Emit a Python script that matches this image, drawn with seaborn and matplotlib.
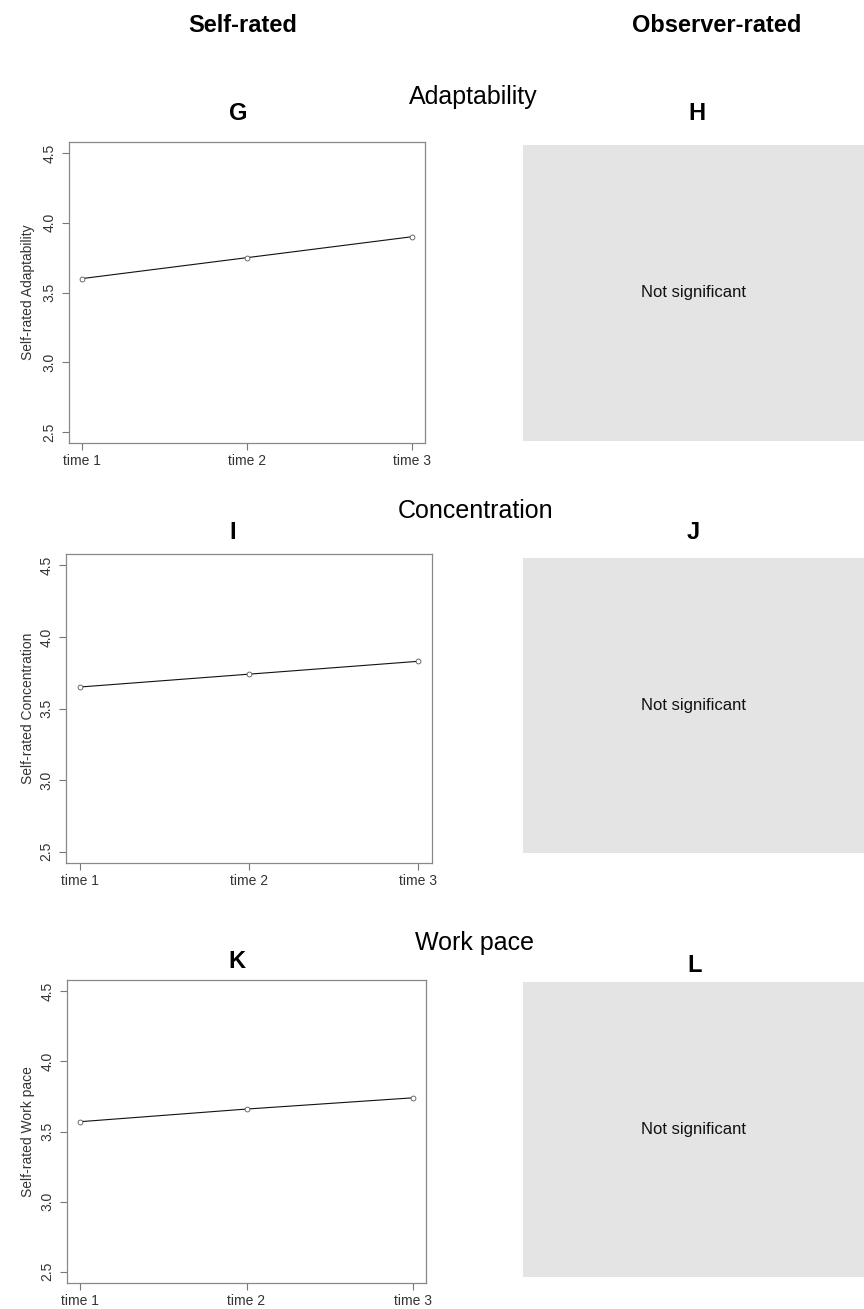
import matplotlib
matplotlib.use("Agg")
import matplotlib.pyplot as plt
import seaborn as sns
import pandas as pd

# values
times = ["time 1", "time 2", "time 3"]
adaptability = [3.60, 3.75, 3.90]
concentration = [3.65, 3.74, 3.83]
work_pace = [3.57, 3.66, 3.74]
y_ticks = [2.5, 3.0, 3.5, 4.0, 4.5]

sns.set_style("white")
plt.rcParams["font.family"] = ["Liberation Sans", "DejaVu Sans"]
plt.rcParams["text.color"] = "black"

W, H = 864, 1309
fig = plt.figure(figsize=(W / 100, H / 100), dpi=100)


def rect(left, top, right, bottom):
    # pixel box -> figure fraction rect
    return [left / W, 1 - bottom / H, (right - left) / W, (bottom - top) / H]


def self_panel(box, values, ylabel):
    ax = fig.add_axes(rect(*box))
    df = pd.DataFrame({"x": range(len(times)), "y": values})
    sns.lineplot(data=df, x="x", y="y", ax=ax, color="#111111", linewidth=0.8,
                 marker="o", markersize=3.5, markerfacecolor="white",
                 markeredgecolor="#555555", markeredgewidth=0.6)
    ax.set_xlim(-0.08, 2.08)
    ax.set_ylim(2.42, 4.58)
    ax.set_xticks(range(len(times)))
    ax.set_xticklabels(times)
    ax.set_yticks(y_ticks)
    ax.set_yticklabels([f"{v:.1f}" for v in y_ticks], rotation=90, va="center")
    ax.tick_params(axis="both", length=5, width=0.8, color="#777777",
                   labelsize=10, labelcolor="#333333", pad=3, direction="out",
                   bottom=True, left=True)
    ax.tick_params(axis="y", pad=4)
    for s in ax.spines.values():
        s.set_visible(True)
        s.set_color("#888888")
        s.set_linewidth(0.9)
    ax.set_xlabel("")
    ax.set_ylabel(ylabel, fontsize=10, color="#333333", va="center")
    wpx = box[2] - box[0]
    ax.yaxis.set_label_coords(-(box[0] - 28) / wpx, 0.5)
    return ax


def grey_panel(box):
    ax = fig.add_axes(rect(*box))
    ax.set_facecolor("#e4e4e4")
    for s in ax.spines.values():
        s.set_visible(False)
    ax.set_xticks([])
    ax.set_yticks([])
    ax.text(0.5, 0.5, "Not significant", transform=ax.transAxes,
            ha="center", va="center", fontsize=12, color="#111111")
    return ax


def label(x, y, s, **kw):
    fig.text(x / W, 1 - y / H, s, ha="center", va="center", color="black", **kw)


# column headers
label(243, 25, "Self-rated", fontsize=17, fontweight="bold")
label(717, 25, "Observer-rated", fontsize=17, fontweight="bold")

# Adaptability
label(473, 97, "Adaptability", fontsize=18)
label(238, 114, "G", fontsize=17, fontweight="bold")
label(697, 114, "H", fontsize=17, fontweight="bold")
self_panel((69, 142, 425, 443), adaptability, "Self-rated Adaptability")
grey_panel((523, 145, 864, 441))

# Concentration
label(476, 511, "Concentration", fontsize=18)
label(233, 533, "I", fontsize=17, fontweight="bold")
label(693, 533, "J", fontsize=17, fontweight="bold")
self_panel((66, 554, 432, 863), concentration, "Self-rated Concentration")
grey_panel((523, 558, 864, 853))

# Work pace
label(474, 943, "Work pace", fontsize=18)
label(237, 962, "K", fontsize=17, fontweight="bold")
label(695, 965, "L", fontsize=17, fontweight="bold")
self_panel((67, 980, 426, 1283), work_pace, "Self-rated Work pace")
grey_panel((523, 982, 864, 1277))

fig.savefig("out.png", dpi=100)
